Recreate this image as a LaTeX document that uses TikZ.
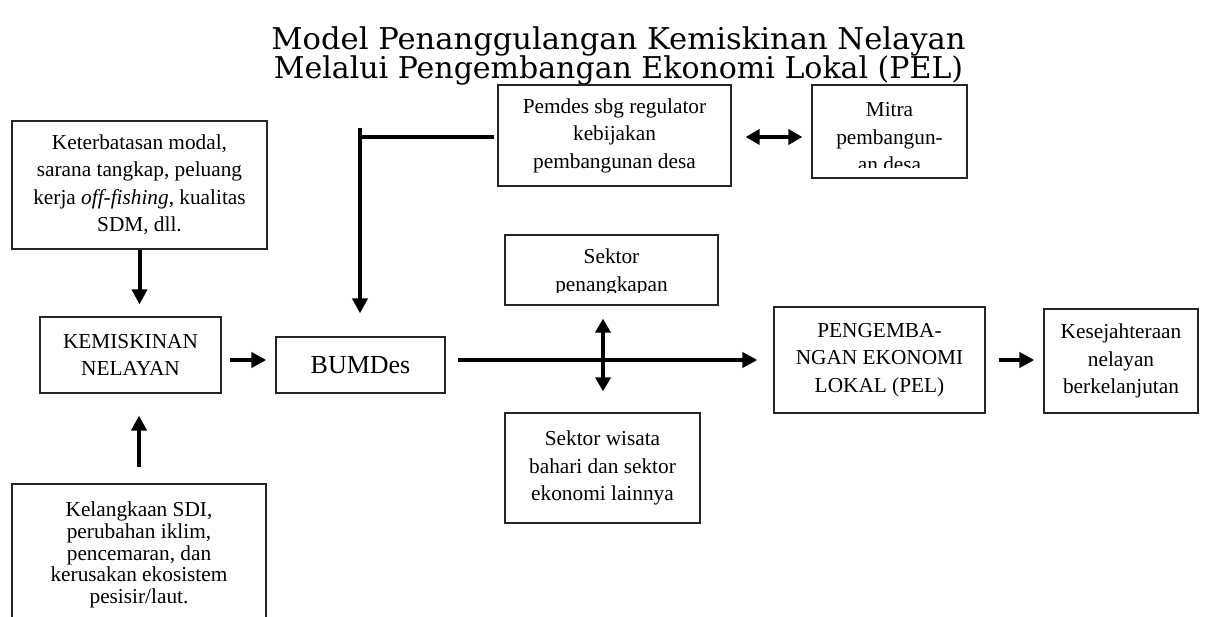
\documentclass[tikz,border=0pt]{standalone}
\usepackage{fontspec}
\setmainfont{Liberation Serif}
\newfontfamily\titlefont{DejaVu Serif}
\usetikzlibrary{arrows.meta}
\begin{document}
\begin{tikzpicture}[x=1pt,y=-1pt,
  box/.style={draw=black!85, line width=1.2pt, inner sep=0pt, align=center,
    font=\fontsize{21.3}{27.5}\selectfont},
  txt/.style={inner sep=0pt, align=center, font=\fontsize{21.3}{27.5}\selectfont},
  ttl/.style={inner sep=0pt, anchor=base, font=\titlefont\fontsize{30}{30}\selectfont},
  conn/.style={line width=4pt},
  arr/.style={conn, -{Triangle[length=15pt,width=15pt]}},
  darr/.style={conn, {Triangle[length=14pt,width=15pt]}-{Triangle[length=14pt,width=15pt]}}]
\clip (0,0) rectangle (1207,617);
\fill[white] (0,0) rectangle (1207,617);

% title
\node[ttl] (title1) at (618.5,50) {\scalebox{1.02}[1]{Model Penanggulangan Kemiskinan Nelayan}};
\node[ttl] (title2) at (618.5,79) {Melalui Pengembangan Ekonomi Lokal (PEL)};

% boxes
\node[box, minimum width=255pt, minimum height=128pt] (B1) at (139.5,185)
  {Keterbatasan modal,\\sarana tangkap, peluang\\kerja \textit{off-fishing}, kualitas\\SDM, dll.};
\node[box, minimum width=181pt, minimum height=76pt] (KEM) at (130.5,355)
  {KEMISKINAN\\NELAYAN};
\node[box, minimum width=169pt, minimum height=56pt, font=\fontsize{26}{30}\selectfont] (BUM) at (360.5,365)
  {BUMDes};
\node[box, minimum width=233pt, minimum height=101pt] (Pemdes) at (614.5,135.5)
  {Pemdes sbg regulator\\kebijakan\\pembangunan desa};
\node[box, minimum width=155pt, minimum height=93pt] (Mitra) at (889.5,131.5) {};
\begin{scope}
  \clip (813,86) rectangle (966,168);
  \node[txt] (MitraT) at (889.5,137.5) {Mitra\\pembangun-\\an desa};
\end{scope}
\node[box, minimum width=213pt, minimum height=70pt] (SPen) at (611.5,270) {};
\begin{scope}
  \clip (506,236) rectangle (717,293);
  \node[txt] (SPenT) at (611.5,272.5) {Sektor\\penangkapan};
\end{scope}
\node[box, minimum width=195pt, minimum height=110pt] (SWis) at (602.5,468)
  {Sektor wisata\\bahari dan sektor\\ekonomi lainnya};
\node[box, minimum width=211pt, minimum height=106pt] (PEL) at (879.5,360)
  {PENGEMBA-\\NGAN EKONOMI\\LOKAL (PEL)};
\node[box, minimum width=154pt, minimum height=104pt] (Kes) at (1121,361)
  {Kesejahteraan\\nelayan\\berkelanjutan};
\node[box, minimum width=254pt, minimum height=156pt] (Bot) at (139,562) {};
\begin{scope}
  \clip (13,485) rectangle (265,614);
  \node[txt, font=\fontsize{21.3}{21.7}\selectfont] (BotT) at (139,555)
    {Kelangkaan SDI,\\perubahan iklim,\\pencemaran, dan\\kerusakan ekosistem\\pesisir/laut.};
\end{scope}

% connectors
\draw[arr, shorten >=12pt] (B1.south) -- (B1.south |- KEM.north);
\draw[arr, shorten <=16pt, shorten >=22pt] (Bot.north) -- (Bot.north |- KEM.south);
\draw[arr, shorten <=8pt, shorten >=9pt] ([yshift=-5pt]KEM.east) -- ([yshift=-5pt]KEM.east -| BUM.west);
\coordinate (vtop) at (360,128);
\draw[conn, shorten <=3pt] (Pemdes.west |- 0,137) -- (vtop |- 0,137);
\draw[arr, shorten >=23pt] (vtop) -- (vtop |- BUM.north);
\draw[darr, shorten <=14pt, shorten >=9pt] ([yshift=-1.5pt]Pemdes.east) -- ([yshift=-1.5pt]Pemdes.east -| Mitra.west);
\draw[arr, shorten <=12pt, shorten >=16pt] (PEL.west -| BUM.east) -- (PEL.west);
\coordinate (vx) at (603,360);
\draw[darr, shorten <=13pt, shorten >=21pt] (vx |- SPen.south) -- (vx |- SWis.north);
\draw[arr, shorten <=13pt, shorten >=9pt] (PEL.east) -- (PEL.east -| Kes.west);
\end{tikzpicture}
\end{document}
